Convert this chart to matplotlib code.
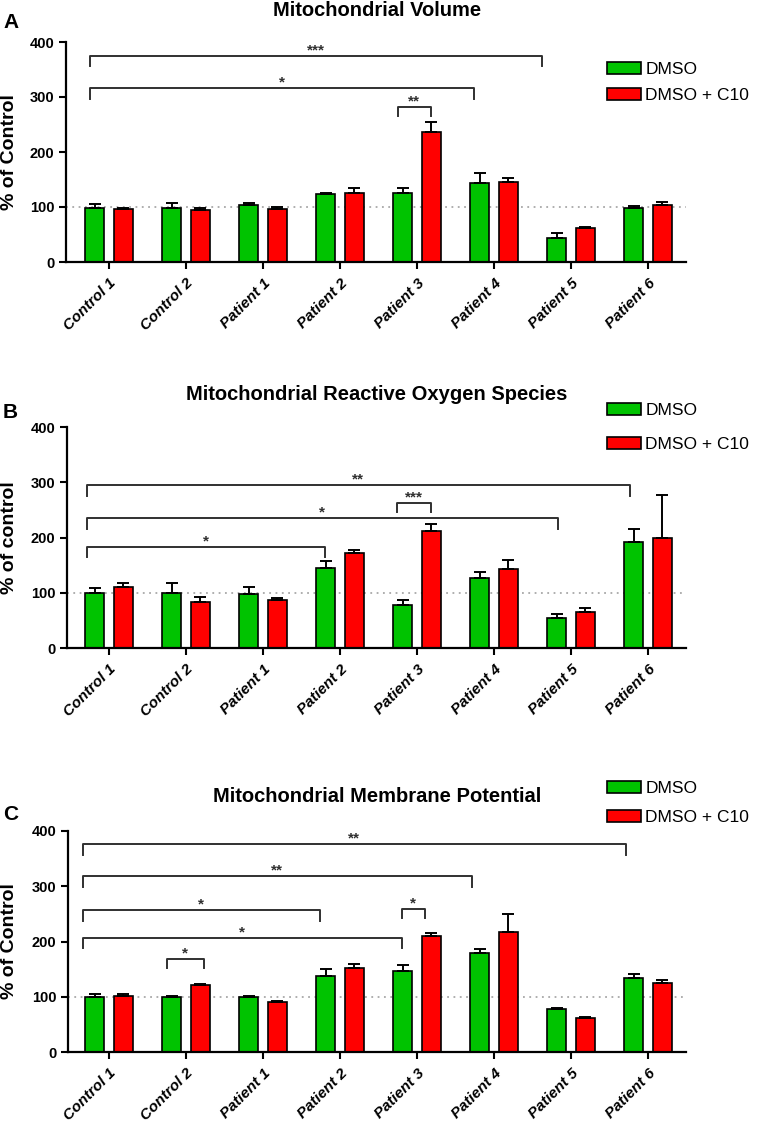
import numpy as np
import matplotlib.pyplot as plt
import matplotlib.transforms as mtransforms

plt.rcParams['font.family'] = ['Liberation Sans', 'DejaVu Sans']

groups = ['Control 1', 'Control 2', 'Patient 1', 'Patient 2',
          'Patient 3', 'Patient 4', 'Patient 5', 'Patient 6']
legend_labels = ['DMSO', 'DMSO + C10']

# A - mitochondrial volume
vol_dmso = [99, 99, 104, 123, 126, 143, 44, 98]
vol_dmso_err = [6, 8, 3, 3, 9, 18, 9, 3]
vol_c10 = [97, 95, 97, 126, 236, 145, 61, 104]
vol_c10_err = [1, 3, 3, 8, 18, 7, 3, 5]

# B - mitochondrial ROS
ros_dmso = [100, 100, 98, 144, 77, 127, 55, 192]
ros_dmso_err = [8, 17, 12, 13, 10, 10, 6, 23]
ros_c10 = [110, 83, 86, 172, 212, 143, 66, 200]
ros_c10_err = [8, 10, 5, 6, 13, 16, 6, 77]

# C - membrane potential
mmp_dmso = [100, 100, 100, 138, 147, 179, 77, 134]
mmp_dmso_err = [5, 2, 1.5, 12, 11, 8, 3, 8]
mmp_c10 = [102, 121, 91, 152, 210, 217, 62, 124]
mmp_c10_err = [3, 2, 2, 8, 6, 32, 1, 7]

# significance brackets: (left, right, height, stars)
vol_sig = [(-0.25, 5.62, 375, '***'), (-0.25, 4.74, 316, '*'), (3.75, 4.18, 281, '**')]
ros_sig = [(-0.29, 6.76, 295, '**'), (-0.29, 5.83, 235, '*'),
           (-0.29, 2.80, 183, '*'), (3.74, 4.18, 262, '***')]
mmp_sig = [(-0.34, 6.71, 376, '**'), (-0.34, 4.71, 318, '**'),
           (-0.34, 2.74, 257, '*'), (-0.34, 3.80, 207, '*'),
           (3.80, 4.10, 258, '*'), (0.75, 1.23, 168, '*')]

W, H = 761, 1124
green = '#00c300'
red = '#ff0000'


def fx(px):
    return px / W


def fy(py):
    return 1 - py / H


fig = plt.figure(figsize=(W / 100, H / 100), dpi=100)


def panel(left, zero_px, top_px, dmso, dmso_err, c10, c10_err, sig,
          title, letter, ylabel, letter_y, title_y, leg_y, leg_space):
    ax = fig.add_axes([fx(left), fy(zero_px), fx(686) - fx(left),
                       (zero_px - top_px) / H])
    x = np.arange(len(groups))
    off = 0.185
    bw = 0.245
    zeros = np.zeros(len(groups))
    b1 = ax.bar(x - off, dmso, bw, color=green, edgecolor='black',
                linewidth=1.2, zorder=2)
    b2 = ax.bar(x + off, c10, bw, color=red, edgecolor='black',
                linewidth=1.2, zorder=2)
    ax.errorbar(x - off, dmso, yerr=[zeros, dmso_err], fmt='none',
                ecolor='black', elinewidth=1.4, capsize=4.5, capthick=1.4, zorder=3)
    ax.errorbar(x + off, c10, yerr=[zeros, c10_err], fmt='none',
                ecolor='black', elinewidth=1.4, capsize=4.5, capthick=1.4, zorder=3)
    ax.axhline(100, color='#a8a8a8', ls=(0, (1, 2.5)), lw=1.3, zorder=1)

    for l, r, h, s in sig:
        tip = 19 if r - l > 1 else 16
        ax.plot([l, l, r, r], [h - tip, h, h, h - tip], color='#303030',
                lw=1.4, zorder=3, clip_on=False)
        ax.text((l + r) / 2, h + 10, s, ha='center', va='center',
                fontsize=11, fontweight='bold', color='#303030')

    ax.set_xlim(-(109 - left) / 77, (686 - 109) / 77)
    ax.set_ylim(0, 400)
    ax.set_yticks([0, 100, 200, 300, 400],
                  labels=['0', '100', '200', '300', '400'],
                  fontweight='bold', fontsize=10.5)
    ax.set_xticks(x, groups, rotation=45, ha='right', rotation_mode='anchor',
                  fontweight='bold', fontstyle='italic', fontsize=11)
    shift = mtransforms.ScaledTranslation(4 / 72, 0, fig.dpi_scale_trans)
    for lab in ax.get_xticklabels():
        lab.set_transform(lab.get_transform() + shift)
    for sp in ['top', 'right']:
        ax.spines[sp].set_visible(False)
    for sp in ['left', 'bottom']:
        ax.spines[sp].set_linewidth(1.6)
    ax.tick_params(axis='both', width=1.5, length=5, direction='out')
    ax.tick_params(axis='x', pad=5)
    ax.set_ylabel(ylabel, fontsize=14, fontweight='bold')
    ax.yaxis.set_label_coords((18 - left) / 620, 0.5)

    fig.text(fx(377), fy(title_y), title, ha='center', va='center',
             fontsize=14.5, fontweight='bold')
    fig.text(fx(3), fy(letter_y), letter, ha='left', va='center',
             fontsize=15, fontweight='bold')
    ax.legend([b1, b2], legend_labels, loc='upper left',
              bbox_to_anchor=(fx(607), fy(leg_y)), bbox_transform=fig.transFigure,
              frameon=False, fontsize=12.5, handlelength=1.95, handleheight=0.7,
              handletextpad=0.25, borderpad=0, borderaxespad=0,
              labelspacing=leg_space)
    return ax


panel(66, 262, 42, vol_dmso, vol_dmso_err, vol_c10, vol_c10_err, vol_sig,
      'Mitochondrial Volume', 'A', '% of Control', 22, 11, 62, 0.6)
panel(67, 648, 427, ros_dmso, ros_dmso_err, ros_c10, ros_c10_err, ros_sig,
      'Mitochondrial Reactive Oxygen Species', 'B', '% of control', 413, 394, 403, 1.1)
panel(68, 1052, 831, mmp_dmso, mmp_dmso_err, mmp_c10, mmp_c10_err, mmp_sig,
      'Mitochondrial Membrane Potential', 'C', '% of Control', 815, 797, 781, 0.8)

fig.savefig('out.png', dpi=100)
